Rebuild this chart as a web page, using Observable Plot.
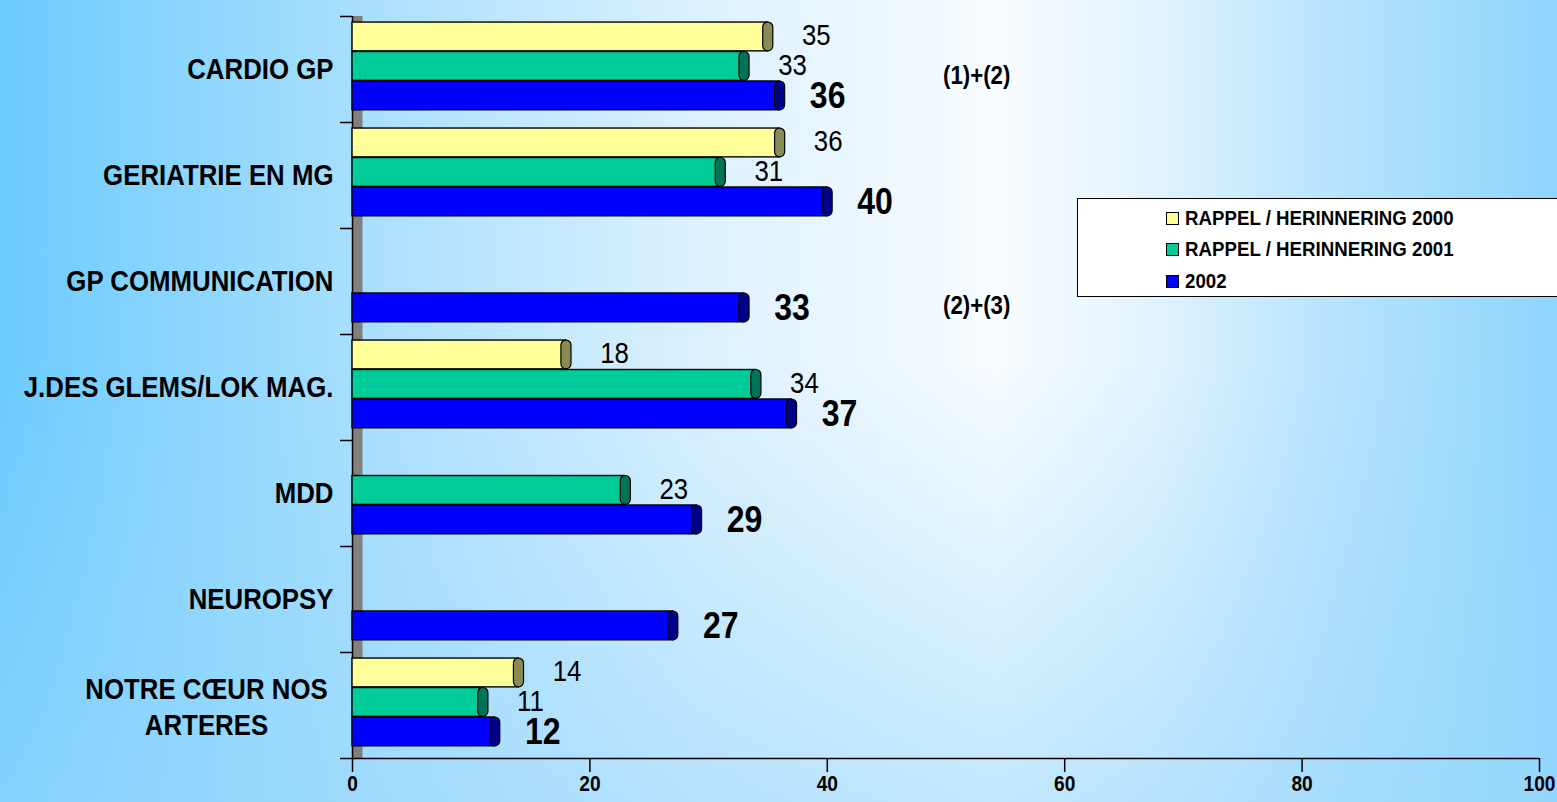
<!DOCTYPE html>
<html><head><meta charset="utf-8">
<script src="https://cdn.jsdelivr.net/npm/d3@7"></script>
<script src="https://cdn.jsdelivr.net/npm/@observablehq/plot@0.6"></script>
<style>
html,body{margin:0;padding:0;}
body{width:1557px;height:802px;overflow:hidden;position:relative;font-family:"Liberation Sans",Arial,sans-serif;
background:
 linear-gradient(to bottom, rgba(150,215,253,0) 45%, rgba(150,215,253,0.55) 100%),
 linear-gradient(to right, #6ccbfe 0%, #a6defd 22%, #dcf1fe 45%, #f8fcff 64%, #e2f3fe 74%, #b6e3fd 86%, #8fd5fd 100%);}
#chart{position:absolute;left:0;top:0;}
#legend{position:absolute;left:1077px;top:198px;width:490px;height:99px;background:#fff;border:1.5px solid #000;box-sizing:border-box;}
.item{position:absolute;left:88px;height:20px;display:flex;align-items:center;font-weight:bold;font-size:21px;color:#000;}
.item span{display:inline-block;transform:scaleX(0.89);transform-origin:left center;white-space:nowrap;}
.sw{width:11px;height:11px;border:1px solid #000;margin-right:6px;flex:none;}
svg text{font-family:"Liberation Sans",Arial,sans-serif;}
</style></head><body>
<div id="chart"></div>
<div id="legend"></div>
<script>
const categories = ["CARDIO GP","GERIATRIE EN MG","GP COMMUNICATION","J.DES GLEMS/LOK MAG.","MDD","NEUROPSY","NOTRE CŒUR NOS\nARTERES"];
const seriesNames = ["RAPPEL / HERINNERING 2000","RAPPEL / HERINNERING 2001","2002"];
const values2000 = [35, 36, null, 18, null, null, 14];
const values2001 = [33, 31, null, 34, 23, null, 11];
const values2002 = [36, 40, 33, 37, 29, 27, 12];
const xTicks = [0, 20, 40, 60, 80, 100];
const notes = [
  {category: "CARDIO GP", text: "(1)+(2)"},
  {category: "GP COMMUNICATION", text: "(2)+(3)"}
];
const swatchColors = ["#ffff99", "#00cc99", "#0000ff"];
const capColors = ["#8a8a55", "#007456", "#000088"];
const gradStops = [
  ["#ffffa6", "#f6f293", "#e6e083"],
  ["#00d6a0", "#00c493", "#00b487"],
  ["#2020ff", "#0000f4", "#0000d8"]
];

const seriesVals = [values2000, values2001, values2002];
const rows = [];
seriesVals.forEach((vals, s) => vals.forEach((v, i) => {
  if (v != null) rows.push({category: categories[i], i, s, value: v});
}));
const yTop = d => d.i + 0.057 + d.s * 0.278;
const yBot = d => yTop(d) + 0.272;
const yMid = d => (yTop(d) + yBot(d)) / 2;

const noteOffset = {"CARDIO GP": 0.56, "GP COMMUNICATION": 0.73};

const marks = [
  Plot.ruleX([0], {stroke: "#808080", strokeWidth: 10, dx: 5}),
  Plot.ruleX([0], {stroke: "#000", strokeWidth: 1.5}),
  Plot.ruleY([categories.length], {stroke: "#000", strokeWidth: 1.5}),
  Plot.text(xTicks, {x: d => d, text: d => String(d), frameAnchor: "bottom", dy: 32, fontSize: 21.5, fontWeight: "bold", fill: "#000"})
];
[0, 1, 2].forEach(s => {
  const data = rows.filter(d => d.s === s);
  marks.push(Plot.rectX(data, {x1: 0, x2: "value", y1: yTop, y2: yBot, fill: swatchColors[s], stroke: "#000", strokeWidth: 1.4, ariaLabel: "bar-" + s}));
  marks.push(Plot.rectX(data, {x1: d => d.value - 0.4, x2: d => d.value + 0.45, y1: yTop, y2: yBot, fill: capColors[s], stroke: "#000", strokeWidth: 1.2, rx: 5}));
});
marks.push(
  Plot.text(rows.filter(d => d.s < 2), {x: "value", y: yMid, text: d => String(d.value), textAnchor: "start", dx: 34, dy: -1, fontSize: 29, fill: "#000"}),
  Plot.text(rows.filter(d => d.s === 2), {x: "value", y: yMid, text: d => String(d.value), textAnchor: "start", dx: 30, dy: 1, fontSize: 36, fontWeight: "bold", fill: "#000"}),
  Plot.text(categories.filter(c => !c.includes("\n")), {x: 0, y: c => categories.indexOf(c) + 0.5, text: d => d, textAnchor: "end", dx: -19, fontSize: 29, fontWeight: "bold", fill: "#000"}),
  Plot.text(categories.filter(c => c.includes("\n")), {x: 0, y: c => categories.indexOf(c) + 0.5, text: d => d, textAnchor: "middle", dx: -146, lineHeight: 1.24, fontSize: 29, fontWeight: "bold", fill: "#000"}),
  Plot.text(notes, {x: 50, y: d => categories.indexOf(d.category) + noteOffset[d.category], text: "text", textAnchor: "start", dx: -3, fontSize: 25, fontWeight: "bold", fill: "#000"})
);

const plot = Plot.plot({
  width: 1557, height: 802,
  marginLeft: 352, marginRight: 18, marginTop: 16, marginBottom: 44,
  style: {background: "transparent", color: "#000", overflow: "visible"},
  x: {domain: [0, 100], ticks: xTicks, tickSize: 14, tickFormat: () => "", label: null},
  y: {domain: [0, categories.length], reverse: true, ticks: d3.range(categories.length + 1), tickFormat: () => "", tickSize: 12, label: null},
  marks
});
document.getElementById("chart").appendChild(plot);

// gradients for the tube-like bars
const svg = d3.select(plot);
const defs = svg.insert("defs", ":first-child");
gradStops.forEach((st, s) => {
  const g = defs.append("linearGradient").attr("id", "grad" + s).attr("x1", 0).attr("y1", 0).attr("x2", 0).attr("y2", 1);
  g.append("stop").attr("offset", "0%").attr("stop-color", st[0]);
  g.append("stop").attr("offset", "35%").attr("stop-color", st[1]);
  g.append("stop").attr("offset", "100%").attr("stop-color", st[2]);
  svg.selectAll(`g[aria-label="bar-${s}"]`).attr("fill", `url(#grad${s})`);
  svg.selectAll(`g[aria-label="bar-${s}"] rect`).attr("fill", null);
});
svg.selectAll('g[aria-label*="axis"]').attr("stroke-width", 1.5).attr("stroke-opacity", 1);
svg.selectAll('g[aria-label*="axis"] line, g[aria-label*="axis"] path').attr("stroke-width", 1.5).attr("stroke", "#000").attr("stroke-opacity", 1);

// horizontally condensed lettering, as in the original
svg.selectAll("text").each(function() {
  const tspans = this.querySelectorAll("tspan");
  const targets = tspans.length ? Array.from(tspans) : [this];
  targets.forEach(t => {
    const len = t.getComputedTextLength();
    if (len > 0) {
      t.setAttribute("textLength", (len * 0.89).toFixed(2));
      t.setAttribute("lengthAdjust", "spacingAndGlyphs");
    }
  });
});

// legend
const legend = d3.select("#legend");
const rowsY = [9, 40, 72];
seriesNames.forEach((name, s) => {
  const it = legend.append("div").attr("class", "item").style("top", rowsY[s] + "px");
  it.append("div").attr("class", "sw").style("background", swatchColors[s]);
  it.append("span").text(name);
});
</script>
</body></html>
